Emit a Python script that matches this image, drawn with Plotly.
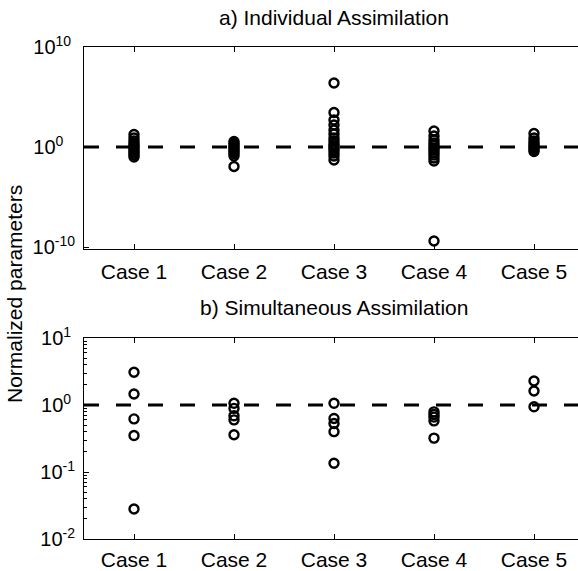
import plotly.graph_objects as go

# ---------------- data ----------------
cases = [1, 2, 3, 4, 5]
case_labels = ["Case 1", "Case 2", "Case 3", "Case 4", "Case 5"]

# a) Individual assimilation: normalized parameters (log10 values read from picture)
ind_case1_log = [1.25, 0.9, 0.6, 0.35, 0.15, 0.0, -0.2, -0.4, -0.6, -0.8, -1.0]
ind_case2_log = [0.55, 0.35, 0.15, -0.05, -0.25, -0.45, -0.65, -0.9, -1.95]
ind_case3_log = [6.4, 3.45, 2.7, 2.2, 1.7, 1.3, 0.9, 0.6, 0.3, 0.1, -0.1, -0.3, -0.6, -0.9, -1.3]
ind_case4_log = [1.6, 1.1, 0.7, 0.4, 0.15, -0.1, -0.3, -0.55, -0.8, -1.1, -1.4, -9.4]
ind_case5_log = [1.35, 0.9, 0.6, 0.35, 0.15, -0.05, -0.25, -0.45]

# b) Simultaneous assimilation
sim_case1 = [3.08, 1.46, 0.62, 0.35, 0.028]
sim_case2 = [1.06, 0.89, 0.69, 0.60, 0.36]
sim_case3 = [1.06, 0.63, 0.53, 0.40, 0.135]
sim_case4 = [0.79, 0.72, 0.66, 0.58, 0.32]
sim_case5 = [2.28, 1.62, 0.94]

ref_value = 1.0

NB = "\u00a0"
top_ticks = [1e-10, 1, 1e10]
top_ticktext = ["10<sup>-10" + NB + "</sup>", "10<sup>0" + NB * 4 + "</sup>", "10<sup>10" + NB * 2 + "</sup>"]
bot_ticks = [0.01, 0.1, 1, 10]
bot_ticktext = ["10<sup>-2" + NB + "</sup>", "10<sup>-1" + NB + "</sup>",
                "10<sup>0" + NB * 2 + "</sup>", "10<sup>1" + NB * 2 + "</sup>"]
bot_minor = [m * 10 ** e for e in (-2, -1, 0) for m in range(2, 10)]

# ---------------- figure ----------------
W, H = 584, 571   # the right edge of the axes box lies just outside the 578 px window
L = 84
FONT = "Liberation Sans, Arial, Helvetica, sans-serif"
FS = 21
TFS = 20

fig = go.Figure()

xr = [0.5, 5.5]

marker = dict(symbol="circle-open", size=9, color="black", line=dict(width=2.4, color="black"))
dashline = dict(color="black", width=3, dash="15px,17px")

# top panel
fig.add_trace(go.Scatter(x=xr, y=[ref_value, ref_value], mode="lines", line=dashline,
                         xaxis="x", yaxis="y", showlegend=False, hoverinfo="skip"))
for c, vals in zip(cases, [ind_case1_log, ind_case2_log, ind_case3_log, ind_case4_log, ind_case5_log]):
    fig.add_trace(go.Scatter(x=[c] * len(vals), y=[10 ** v for v in vals], mode="markers",
                             marker=marker, xaxis="x", yaxis="y", showlegend=False))

# bottom panel
fig.add_trace(go.Scatter(x=xr, y=[ref_value, ref_value], mode="lines", line=dashline,
                         xaxis="x2", yaxis="y2", showlegend=False, hoverinfo="skip"))
for c, vals in zip(cases, [sim_case1, sim_case2, sim_case3, sim_case4, sim_case5]):
    fig.add_trace(go.Scatter(x=[c] * len(vals), y=vals, mode="markers",
                             marker=marker, xaxis="x2", yaxis="y2", showlegend=False))

def ydom(top_px, bot_px):
    return [1 - bot_px / H, 1 - top_px / H]

def px_x(p):
    return (p - L) / (W - L)

def px_y(p):
    return 1 - p / H

xcommon = dict(range=xr, tickvals=cases, ticktext=case_labels, showline=True, linecolor="black",
               linewidth=1.2, mirror="ticks", ticks="inside", ticklen=5, tickcolor="black",
               showgrid=False, zeroline=False, automargin=False,
               tickfont=dict(family=FONT, size=FS, color="black"))
ycommon = dict(type="log", showline=True, linecolor="black", linewidth=1.2, mirror=False,
               ticks="inside", ticklen=5, tickcolor="black", showgrid=False, zeroline=False,
               automargin=False, tickfont=dict(family=FONT, size=TFS, color="black"))

ann_common = dict(xref="paper", yref="paper", showarrow=False, xanchor="center", yanchor="middle",
                  font=dict(family=FONT, size=FS, color="black"))

fig.update_layout(
    width=W, height=H,
    margin=dict(l=L, r=0, t=0, b=0, autoexpand=False),
    paper_bgcolor="white", plot_bgcolor="white",
    font=dict(family=FONT, size=FS, color="black"),
    xaxis=dict(domain=[0, 1], anchor="y", ticklabelstandoff=4, **xcommon),
    yaxis=dict(domain=ydom(47, 249), anchor="x", range=[-10.2, 10],
               tickvals=top_ticks, ticktext=top_ticktext, **ycommon),
    xaxis2=dict(domain=[0, 1], anchor="y2", ticklabelstandoff=2, **xcommon),
    yaxis2=dict(domain=ydom(338, 539), anchor="x2", range=[-2, 1],
                tickvals=bot_ticks, ticktext=bot_ticktext,
                minor=dict(tickvals=bot_minor, ticks="inside", ticklen=3, tickcolor="black"),
                **ycommon),
    annotations=[
        dict(text="a) Individual Assimilation", x=px_x(334), y=px_y(18), **ann_common),
        dict(text="b) Simultaneous Assimilation", x=px_x(334), y=px_y(307), **ann_common),
        dict(text="Normalized parameters", x=px_x(14), y=px_y(294), textangle=-90, **ann_common),
    ],
)

fig.write_html("out.html", config={"displayModeBar": False},
               post_script="document.body.style.margin='0px';document.body.style.overflow='hidden';")
